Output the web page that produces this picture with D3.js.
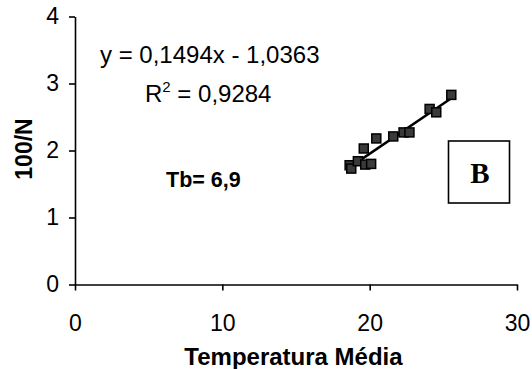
<!DOCTYPE html>
<html>
<head>
<meta charset="utf-8">
<script src="https://cdn.jsdelivr.net/npm/d3@7"></script>
<style>
  body { margin: 0; background: #fff; }
  svg text { font-family: "Liberation Sans", Arial, sans-serif; fill: #000; }
</style>
</head>
<body>
<div id="chart"></div>
<script>
// data
var temperatura = [18.64, 18.75, 19.2, 19.6, 19.7, 20.1, 20.45, 21.6, 22.3, 22.7, 24.07, 24.52, 25.54];
var invN        = [1.78, 1.73, 1.84, 2.03, 1.79, 1.80, 2.18, 2.21, 2.27, 2.27, 2.62, 2.57, 2.83];
var xTicks = [0, 10, 20, 30];
var yTicks = [0, 1, 2, 3, 4];
var slope = 0.1494, intercept = -1.0363;
var eqText = "y = 0,1494x - 1,0363";
var r2Text = "0,9284";
var tbText = "Tb= 6,9";
var boxLabel = "B";

var svgWidth = 532, svgHeight = 369;

var svg = d3.select("#chart")
  .append("svg")
  .attr("width", svgWidth)
  .attr("height", svgHeight);

// scales
var xScale = d3.scaleLinear().domain([0, 30]).range([75, 517]);
var yScale = d3.scaleLinear().domain([0, 4]).range([284.5, 16.5]);

// axes
var xAxis = svg.append("g")
  .attr("transform", "translate(0," + yScale(0) + ")")
  .call(d3.axisBottom(xScale).tickValues(xTicks).tickFormat(d3.format("d"))
        .tickSize(6).tickSizeOuter(0).tickPadding(24));

var yAxis = svg.append("g")
  .attr("transform", "translate(" + xScale(0) + ",0)")
  .call(d3.axisLeft(yScale).tickValues(yTicks).tickFormat(d3.format("d"))
        .tickSize(6).tickSizeOuter(0).tickPadding(10));

svg.selectAll(".domain").attr("stroke", "#000").attr("stroke-width", 1.6);
svg.selectAll(".tick line").attr("stroke", "#000").attr("stroke-width", 1.6);
svg.selectAll(".tick text")
  .attr("fill", "#000")
  .style("font-size", "23px")
  .style("font-family", "Liberation Sans, Arial, sans-serif");

// axis titles
svg.append("text")
  .attr("x", 293.5)
  .attr("y", 365)
  .attr("text-anchor", "middle")
  .style("font-size", "24px")
  .style("font-weight", "bold")
  .text("Temperatura Média");

svg.append("text")
  .attr("transform", "translate(31.5,149) rotate(-90)")
  .attr("text-anchor", "middle")
  .style("font-size", "23px")
  .style("font-weight", "bold")
  .text("100/N");

// trend line
var xMin = d3.min(temperatura), xMax = d3.max(temperatura);
svg.append("line")
  .attr("x1", xScale(xMin))
  .attr("y1", yScale(slope * xMin + intercept))
  .attr("x2", xScale(xMax))
  .attr("y2", yScale(slope * xMax + intercept))
  .attr("stroke", "#000")
  .attr("stroke-width", 2.5);

// points
var pts = temperatura.map(function(d, i){ return [d, invN[i]]; });
svg.selectAll("rect.pt")
  .data(pts)
  .enter()
  .append("rect")
  .attr("class", "pt")
  .attr("x", function(d){ return xScale(d[0]) - 4.5; })
  .attr("y", function(d){ return yScale(d[1]) - 4.5; })
  .attr("width", 9)
  .attr("height", 9)
  .attr("fill", "#3a3a3a")
  .attr("stroke", "#000")
  .attr("stroke-width", 1.5);

// equation text
svg.append("text")
  .attr("x", 100)
  .attr("y", 63)
  .style("font-size", "24px")
  .text(eqText);

var r2 = svg.append("text")
  .attr("x", 145)
  .attr("y", 102)
  .style("font-size", "24px");
r2.append("tspan").text("R");
r2.append("tspan").attr("dy", -10).style("font-size", "15px").text("2");
r2.append("tspan").attr("dy", 10).text(" = " + r2Text);

svg.append("text")
  .attr("x", 166)
  .attr("y", 186.5)
  .style("font-size", "21.5px")
  .style("font-weight", "bold")
  .text(tbText);

// B box
svg.append("rect")
  .attr("x", 448.5)
  .attr("y", 141)
  .attr("width", 61)
  .attr("height", 62)
  .attr("fill", "#fff")
  .attr("stroke", "#000")
  .attr("stroke-width", 1.6);

svg.append("text")
  .attr("x", 480)
  .attr("y", 182.5)
  .attr("text-anchor", "middle")
  .style("font-family", "Liberation Serif, Times New Roman, serif")
  .style("font-size", "29px")
  .style("font-weight", "bold")
  .text(boxLabel);
</script>
</body>
</html>
